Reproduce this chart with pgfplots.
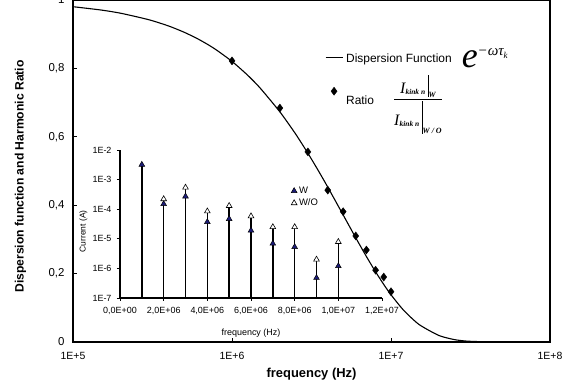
\documentclass[border=0pt]{standalone}
\usepackage{fontspec}
\setmainfont{Liberation Sans}
\newfontfamily\tnr{Liberation Serif}
\usepackage{pgfplots}
\pgfplotsset{compat=1.18}
\definecolor{navyW}{RGB}{28,28,120}

\begin{document}
\begin{tikzpicture}[x=1bp,y=1bp]
\path[use as bounding box] (-73bp,-43bp) rectangle (502bp,342bp);
\begin{axis}[
  name=main,
  at={(0bp,0bp)}, anchor=south west,
  scale only axis, width=477bp, height=342bp,
  xmode=log, xmin=1e5, xmax=1e8, ymin=0, ymax=1,
  xtick={1e5,1e6,1e7,1e8}, xticklabels={1E+5,1E+6,1E+7,1E+8},
  xminorticks=false,
  ytick={0,0.2,0.4,0.6,0.8,1}, yticklabels={0,{0,2},{0,4},{0,6},{0,8},1},
  tick pos=left, tick align=inside, major tick length=4bp,
  tick style={black, line width=0.8bp},
  axis line style={line width=1.2bp},
  xticklabel style={font=\fontsize{10.5}{12}\selectfont, yshift=-7bp},
  yticklabel style={font=\fontsize{11.5}{13}\selectfont, xshift=-5bp},
  xlabel={frequency (Hz)}, ylabel={Dispersion function and Harmonic Ratio},
  xlabel style={font=\fontsize{13}{15}\selectfont\bfseries, at={(axis description cs:0.5,-0.094)}, anchor=center},
  ylabel style={font=\fontsize{12.2}{15}\selectfont\bfseries, at={(axis description cs:-0.11,0.484)}, anchor=center},
  legend style={draw=none, fill=none, inner sep=0pt, outer sep=0pt, row sep=12bp, column sep=3bp,
    nodes={inner sep=0pt}, at={(axis description cs:0.5283,0.8538)}, anchor=north west,
    font=\fontsize{12}{14}\selectfont},
  legend cell align=left,
  clip=false,
]
\addplot[black, line width=1.1bp, smooth, tension=0.4] coordinates {
 (1e5,0.9804) (1.5e5,0.9707) (2e5,0.9612) (3e5,0.9423) (4e5,0.9239) (5e5,0.9057)
 (6e5,0.8880) (7e5,0.8706) (8e5,0.8535) (1e6,0.8204) (1.25e6,0.7807) (1.5e6,0.7430)
 (2e6,0.6730) (2.5e6,0.6096) (3e6,0.5521) (3.5e6,0.5001) (4e6,0.4530) (5e6,0.3716)
 (6e6,0.3048) (7e6,0.2501) (8e6,0.2051) (9e6,0.1683) (1e7,0.1381) (1.2e7,0.0929)
 (1.5e7,0.0513) (2e7,0.0191) (2.5e7,0.0071) (3e7,0.0026) (4e7,0.0004) (5e7,0.0001) (1e8,0)
};
\addlegendentry{Dispersion Function\hspace{10bp}\raisebox{-5bp}[13bp][5bp]{\tnr\itshape\fontsize{36}{36}\selectfont e}\raisebox{7bp}[0pt][0pt]{\tnr\itshape\fontsize{15}{15}\selectfont −ωτ\raisebox{-3bp}{\fontsize{9}{9}\selectfont k}}}
\addplot[only marks, mark=diamond*, mark size=4bp, black] coordinates {
 (1e6,0.822) (2e6,0.684) (3e6,0.556) (4e6,0.444) (5e6,0.381)
 (6e6,0.31) (7e6,0.269) (8e6,0.21) (9e6,0.19) (1e7,0.147)
};
\addlegendentry{Ratio\hspace{19bp}\raisebox{2bp}[28bp][30bp]{$\displaystyle\frac{\mbox{\tnr\itshape\fontsize{16}{16}\selectfont I\raisebox{-1bp}{\bfseries\fontsize{7.5}{8}\selectfont kink n}\,\rule[-3bp]{0.8bp}{22bp}\raisebox{-4bp}{\bfseries\fontsize{8}{8}\selectfont W}}}{\mbox{\tnr\itshape\fontsize{16}{16}\selectfont I\raisebox{-1bp}{\bfseries\fontsize{7.5}{8}\selectfont kink n}\,\rule[-8bp]{0.8bp}{33bp}\raisebox{-8bp}{\bfseries\fontsize{8}{8}\selectfont W / O}}}$}}
\end{axis}

\begin{axis}[
  name=inset,
  at={(47bp,44bp)}, anchor=south west,
  scale only axis, width=262bp, height=148bp,
  xmin=0, xmax=1.2e7, ymode=log, ymin=1e-7, ymax=1e-2,
  axis lines=left, axis line style={line width=1.2bp, -},
  xtick={0,2e6,4e6,6e6,8e6,1e7,1.2e7},
  xticklabels={{0,0E+00},{2,0E+06},{4,0E+06},{6,0E+06},{8,0E+06},{1,0E+07},{1,2E+07}},
  ytick={1e-7,1e-6,1e-5,1e-4,1e-3,1e-2}, yticklabels={1E-7,1E-6,1E-5,1E-4,1E-3,1E-2},
  yminorticks=false, scaled x ticks=false,
  tick align=outside, major tick length=3bp, tick style={black, line width=0.8bp},
  xticklabel style={font=\fontsize{9}{10}\selectfont, yshift=-3bp},
  yticklabel style={font=\fontsize{9}{10}\selectfont, xshift=-2bp},
  xlabel={frequency (Hz)}, ylabel={Current (A)},
  xlabel style={font=\fontsize{9}{10}\selectfont, at={(axis description cs:0.5,-0.24)}, anchor=center},
  ylabel style={font=\fontsize{8.5}{10}\selectfont, at={(axis description cs:-0.14,0.45)}, anchor=center},
  legend style={draw=none, fill=none, inner sep=0pt, row sep=4bp, column sep=2bp,
    nodes={inner sep=0pt}, at={(axis description cs:0.653,0.752)}, anchor=north west,
    font=\fontsize{9.5}{11}\selectfont},
  legend cell align=left,
  legend image code/.code={\draw[#1] plot coordinates {(2.5bp,0bp)};},
  clip=false,
]
\addplot[black, line width=1.4bp, unbounded coords=jump, forget plot] coordinates {
 (1e6,1e-7) (1e6,3.2e-3) (1e6,nan)
 (2e6,1e-7) (2e6,2.2e-4) (2e6,nan)
 (3e6,1e-7) (3e6,5.4e-4) (3e6,nan)
 (4e6,1e-7) (4e6,8.5e-5) (4e6,nan)
 (5e6,1e-7) (5e6,1.3e-4) (5e6,nan)
 (6e6,1e-7) (6e6,5.8e-5) (6e6,nan)
 (7e6,1e-7) (7e6,2.5e-5) (7e6,nan)
 (8e6,1e-7) (8e6,2.5e-5) (8e6,nan)
 (9e6,1e-7) (9e6,2.0e-6) (9e6,nan)
 (1e7,1e-7) (1e7,7.9e-6)
};
\addplot[only marks, mark=triangle*, mark size=3.3bp, mark options={fill=navyW, draw=black, line width=0.5bp}] coordinates {
 (1e6,3.2e-3) (2e6,1.5e-4) (3e6,2.7e-4) (4e6,3.7e-5) (5e6,4.7e-5)
 (6e6,1.9e-5) (7e6,6.9e-6) (8e6,5.3e-6) (9e6,4.8e-7) (1e7,1.2e-6)
};
\addlegendentry{W}
\addplot[only marks, mark=triangle*, mark size=3.3bp, mark options={fill=white, draw=black, line width=0.6bp}] coordinates {
 (2e6,2.2e-4) (3e6,5.4e-4) (4e6,8.5e-5) (5e6,1.3e-4)
 (6e6,5.8e-5) (7e6,2.5e-5) (8e6,2.5e-5) (9e6,2.0e-6) (1e7,7.9e-6)
};
\addlegendentry{W/O}
\end{axis}
\end{tikzpicture}
\end{document}
